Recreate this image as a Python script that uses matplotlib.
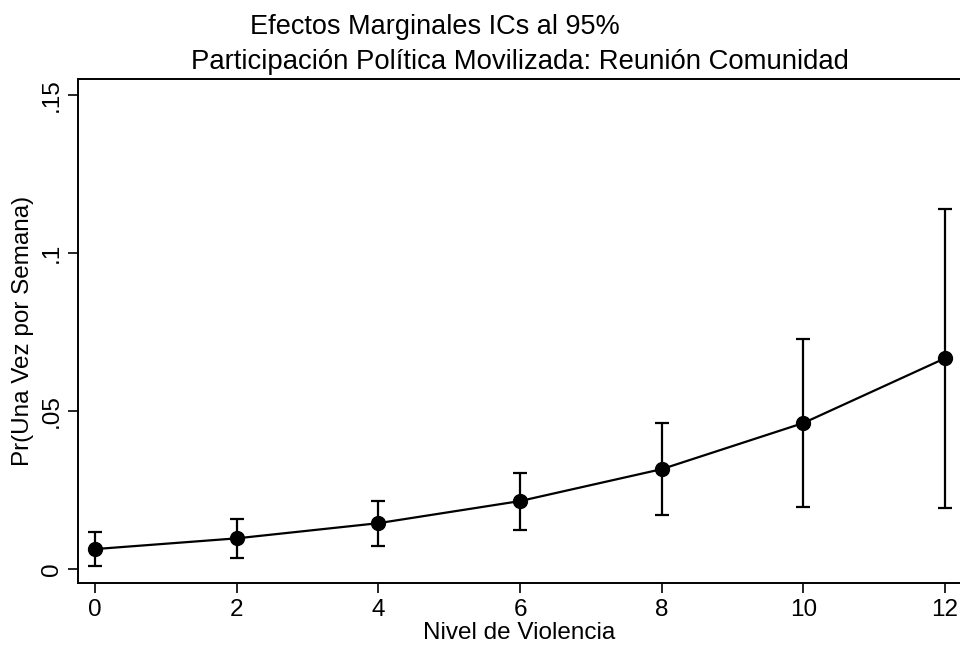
import matplotlib
matplotlib.use("Agg")
import matplotlib.pyplot as plt

plt.rcParams['font.family'] = ['Liberation Sans', 'DejaVu Sans']

# Marginal predicted probabilities with 95% confidence intervals
violencia = [0, 2, 4, 6, 8, 10, 12]
prob = [0.0063, 0.0097, 0.0145, 0.0215, 0.0316, 0.0462, 0.0667]
ci_low = [0.0011, 0.0034, 0.0074, 0.0123, 0.0170, 0.0196, 0.0194]
ci_high = [0.0117, 0.0158, 0.0216, 0.0304, 0.0462, 0.0728, 0.1139]

xticks = [0, 2, 4, 6, 8, 10, 12]
yticks = [0, 0.05, 0.10, 0.15]
yticklabels = ["0", ".05", ".1", ".15"]

fig = plt.figure(figsize=(9.6, 6.5), dpi=100)
ax = fig.add_axes([0.08125, 0.1026, 0.91875, 0.7751])

yerr = [[p - lo for p, lo in zip(prob, ci_low)],
        [hi - p for p, hi in zip(prob, ci_high)]]
ax.errorbar(violencia, prob, yerr=yerr, fmt='none', ecolor='black',
            elinewidth=1.6, capsize=5, capthick=1.6, zorder=2)
ax.plot(violencia, prob, color='black', linewidth=1.6, marker='o',
        markersize=10, markerfacecolor='black', markeredgecolor='black',
        zorder=3)

ax.set_xlim(-0.24, 12.21)
ax.set_ylim(-0.00453, 0.1549)
ax.set_xticks(xticks)
ax.set_xticklabels([str(v) for v in xticks])
ax.set_yticks(yticks)
ax.set_yticklabels(yticklabels, rotation=90, va='center')

for side in ['left', 'bottom', 'top']:
    ax.spines[side].set_linewidth(1.4)
ax.spines['right'].set_visible(False)

ax.tick_params(axis='both', length=7, width=1.2, labelsize=17.5, pad=4)
ax.set_xlabel("Nivel de Violencia", fontsize=17.5, labelpad=1)
ax.set_ylabel("Pr(Una Vez por Semana)", fontsize=17.5, labelpad=5)

fig.text(435 / 960, 1 - 27 / 650, "Efectos Marginales ICs al 95%",
         ha='center', va='center', fontsize=19.5)
fig.text(520 / 960, 1 - 62 / 650,
         "Participación Política Movilizada: Reunión Comunidad",
         ha='center', va='center', fontsize=19.8)

fig.savefig("out.png", dpi=100, facecolor='white')
